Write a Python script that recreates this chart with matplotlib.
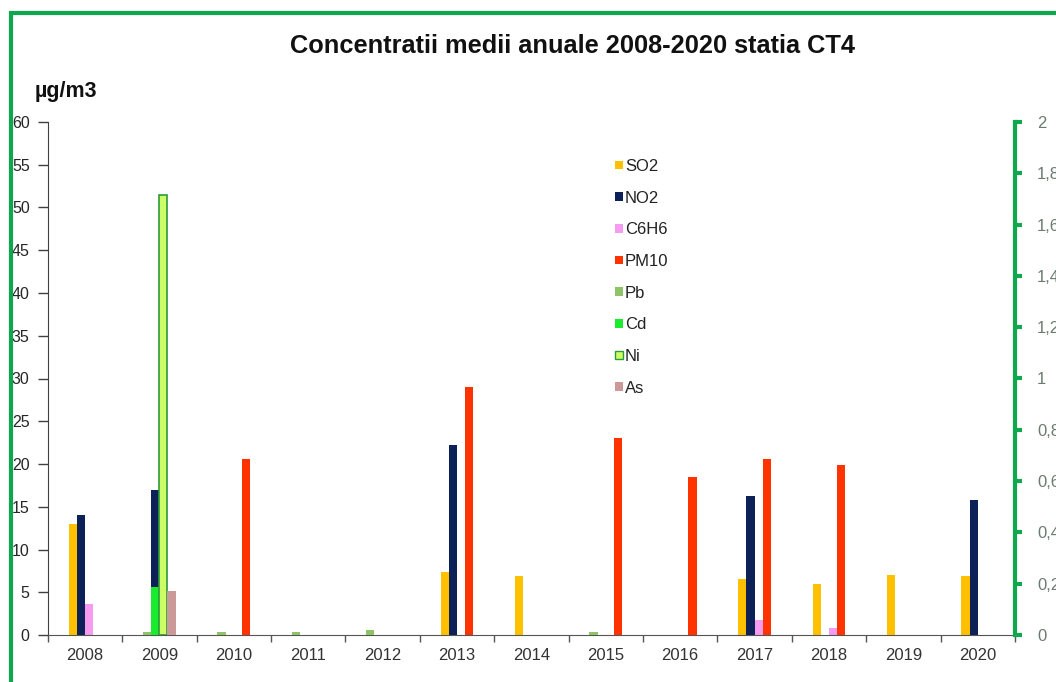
import numpy as np
import matplotlib
matplotlib.use('Agg')
import matplotlib.pyplot as plt
from matplotlib.patches import Patch
from matplotlib.lines import Line2D
from matplotlib.ticker import FuncFormatter, MultipleLocator
from matplotlib import font_manager

# ------------------------- date -------------------------
ani = ['2008', '2009', '2010', '2011', '2012', '2013', '2014',
       '2015', '2016', '2017', '2018', '2019', '2020']
nan = np.nan

# axa principala (µg/m3)
so2 = [13.0, nan, nan, nan, nan, 7.4, 6.9, nan, nan, 6.5, 6.0, 7.0, 6.9]
no2 = [14.0, 17.0, nan, nan, nan, 22.2, nan, nan, nan, 16.3, nan, nan, 15.8]
c6h6 = [3.6, nan, nan, nan, nan, nan, nan, nan, nan, 1.75, 0.85, nan, nan]
pm10 = [nan, nan, 20.6, nan, nan, 29.0, nan, 23.0, 18.5, 20.6, 19.9, nan, nan]

# axa secundara (metale)
pb = [nan, 0.013, 0.012, 0.011, 0.021, nan, nan, 0.011, nan, nan, nan, nan, nan]
cd = [nan, 0.186, nan, nan, nan, nan, nan, nan, nan, nan, nan, nan, nan]
ni = [nan, 1.715, nan, nan, nan, nan, nan, nan, nan, nan, nan, nan, nan]
as_ = [nan, 0.172, nan, nan, nan, nan, nan, nan, nan, nan, nan, nan, nan]

# ------------------------- stil -------------------------
names = [f.name for f in font_manager.fontManager.ttflist]
font = 'Liberation Sans' if 'Liberation Sans' in names else 'DejaVu Sans'
plt.rcParams['font.family'] = [font, 'DejaVu Sans']

VERDE = '#0FA84F'
culori = {'SO2': '#FFC000', 'NO2': '#0B2158', 'C6H6': '#F59CF0', 'PM10': '#FF3300',
          'Pb': '#8FC466', 'Cd': '#19EB2E', 'Ni': '#CCFF66', 'As': '#CC9999'}

W, H = 1056, 682
fig = plt.figure(figsize=(W / 100, H / 100), dpi=100)
fig.patch.set_facecolor('white')

x0, x1, y0, y1 = 47.7, 1015, 122, 635
ax = fig.add_axes([x0 / W, 1 - y1 / H, (x1 - x0) / W, (y1 - y0) / H])
ax2 = ax.twinx()

x = np.arange(len(ani))
w = 0.11
off = [-1.5 * w, -0.5 * w, 0.5 * w, 1.5 * w]

for serie, nume, o in zip([so2, no2, c6h6, pm10], ['SO2', 'NO2', 'C6H6', 'PM10'], off):
    ax.bar(x + o, serie, width=w, color=culori[nume], linewidth=0)

for serie, nume, o in zip([pb, cd, ni, as_], ['Pb', 'Cd', 'Ni', 'As'], off):
    if nume == 'Ni':
        ax2.bar(x + o, serie, width=w, color=culori[nume], edgecolor='#2E9A3A', linewidth=1.2)
    else:
        ax2.bar(x + o, serie, width=w, color=culori[nume], linewidth=0)

ax.set_xlim(-0.5, len(ani) - 0.5)
ax.set_ylim(0, 60)
ax2.set_ylim(0, 2)

# axa stanga
ax.yaxis.set_major_locator(MultipleLocator(5))
ax.tick_params(axis='y', direction='out', length=7, width=1, color='#404040',
               labelsize=11.5, labelcolor='#262626', pad=6)
for s in ['top', 'right']:
    ax.spines[s].set_visible(False)
ax.spines['left'].set_color('#404040')
ax.spines['bottom'].set_color('#555555')

# axa x: etichete la mijloc, liniute intre ani
ax.set_xticks(x)
ax.set_xticklabels(ani)
ax.set_xticks(np.arange(-0.5, len(ani)), minor=True)
ax.tick_params(axis='x', which='major', length=0, labelsize=12, labelcolor='#333333', pad=9)
ax.tick_params(axis='x', which='minor', direction='out', length=5, width=1, color='#555555')

# axa dreapta, verde
ax2.yaxis.set_major_locator(MultipleLocator(0.2))
ax2.yaxis.set_major_formatter(FuncFormatter(lambda v, p: ('%g' % round(v, 1)).replace('.', ',')))
ax2.tick_params(axis='y', direction='out', length=5, width=3, color=VERDE,
                labelsize=12, labelcolor='#6B7B70', pad=11)
for s in ['top', 'left', 'bottom']:
    ax2.spines[s].set_visible(False)
ax2.spines['right'].set_color(VERDE)
ax2.spines['right'].set_linewidth(3)

# titlu si unitate
fig.text(573 / W, 1 - 46 / H, 'Concentratii medii anuale 2008-2020 statia CT4',
         ha='center', va='center', fontsize=18.3, fontweight='bold', color='#111111')
fig.text(35 / W, 1 - 91 / H, 'µg/m3', ha='left', va='center',
         fontsize=15.5, fontweight='bold', color='#111111')

# legenda
handles = [Patch(facecolor=culori[k], edgecolor='#2E9A3A' if k == 'Ni' else 'none',
                 linewidth=1 if k == 'Ni' else 0)
           for k in ['SO2', 'NO2', 'C6H6', 'PM10', 'Pb', 'Cd', 'Ni', 'As']]
fig.legend(handles, ['SO2', 'NO2', 'C6H6', 'PM10', 'Pb', 'Cd', 'Ni', 'As'],
           loc='upper left', bbox_to_anchor=(615 / W, 1 - 159 / H),
           frameon=False, fontsize=12, handlelength=0.45, handleheight=0.4,
           handletextpad=0.15, labelspacing=1.0, borderpad=0, borderaxespad=0,
           labelcolor='#222222')

# chenarul verde
fig.add_artist(Line2D([10.5 / W, 10.5 / W, 1.0], [-0.01, 1 - 12.5 / H, 1 - 12.5 / H],
                      transform=fig.transFigure, color='#0DA84E', linewidth=3,
                      solid_joinstyle='miter'))

fig.savefig('out.png', dpi=100)
